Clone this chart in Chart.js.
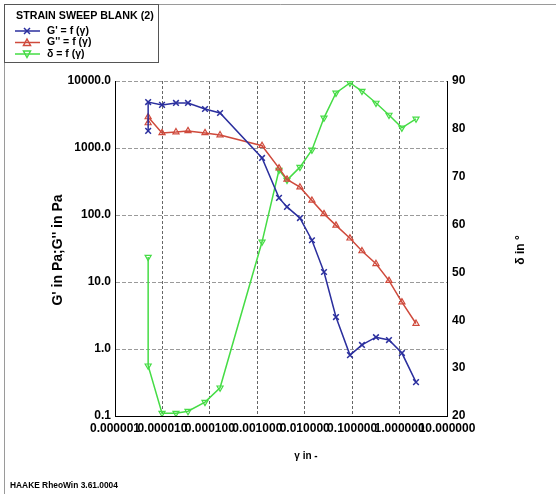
<!DOCTYPE html>
<html>
<head>
<meta charset="utf-8">
<title>Strain sweep</title>
<script src="https://cdn.jsdelivr.net/npm/chart.js@4.4.0/dist/chart.umd.min.js"></script>
<style>
  html, body { margin: 0; padding: 0; background: #fff; }
  canvas { display: block; }
</style>
</head>
<body>
<canvas id="chart" width="556" height="494"></canvas>
<script>
// strain amplitude (gamma) and measured moduli / phase angle
const gamma = [5e-6, 5e-6, 9.8e-6, 1.93e-5, 3.46e-5, 7.9e-5, 1.64e-4, 1.26e-3, 2.87e-3, 4.23e-3,
               7.94e-3, 1.42e-2, 2.55e-2, 4.56e-2, 9.0e-2, 0.161, 0.318, 0.598, 1.12, 2.22];
const gStorage = [1800, 4850, 4400, 4700, 4700, 3820, 3330, 710, 180, 132,
                  90, 42, 14.1, 3.0, 0.81, 1.15, 1.5, 1.36, 0.87, 0.32];
const gLoss = [2360, 2900, 1680, 1730, 1800, 1680, 1560, 1080, 500, 340,
               260, 165, 104, 70, 45, 29, 18.7, 10.5, 5.0, 2.4];
const delta = [53.2, 30.5, 20.6, 20.6, 21.0, 22.9, 25.9, 56.4, 71.4, 69.3,
               72.0, 75.6, 82.3, 87.5, 89.6, 87.9, 85.4, 82.9, 80.2, 82.1];

const xTicks = [1e-6, 1e-5, 1e-4, 1e-3, 1e-2, 1e-1, 1, 10];
const leftTicks = [0.1, 1, 10, 100, 1000, 10000];
const rightTicks = [20, 30, 40, 50, 60, 70, 80, 90];

const seriesNames = ["G' = f (\u03b3)", "G'' = f (\u03b3)", "\u03b4 = f (\u03b3)"];
const BLUE = '#2b2f9e', RED = '#cf4a3c', GREEN = '#45dc45';
const FONT = '"Liberation Sans", Arial, sans-serif';
const tickFont = { family: FONT, size: 12, weight: 'bold' };

const pairs = ys => gamma.map((g, i) => ({ x: g, y: ys[i] }));
const fixTicks = list => scale => { scale.ticks = list.map(v => ({ value: v })); };

// legend box, axis titles, frame and footer
const decor = {
  id: 'decor',
  afterDraw(chart) {
    const ctx = chart.ctx;
    ctx.save();
    ctx.strokeStyle = '#9a9a9a';
    ctx.lineWidth = 1;
    ctx.beginPath();
    ctx.moveTo(4.5, 494); ctx.lineTo(4.5, 4.5); ctx.lineTo(556, 4.5);
    ctx.stroke();
    ctx.strokeStyle = '#555';
    ctx.strokeRect(4.5, 4.5, 154, 58);

    ctx.fillStyle = '#000';
    ctx.textBaseline = 'middle';
    ctx.textAlign = 'left';
    ctx.font = 'bold 10.7px ' + FONT;
    ctx.fillText('STRAIN SWEEP BLANK (2)', 16, 16);

    const marks = [
      { c: BLUE, s: 'x' }, { c: RED, s: 'up' }, { c: GREEN, s: 'down' }
    ];
    marks.forEach((m, i) => {
      const y = 31 + i * 11.5;
      ctx.strokeStyle = m.c;
      ctx.lineWidth = 1.5;
      ctx.beginPath(); ctx.moveTo(15, y); ctx.lineTo(40, y); ctx.stroke();
      ctx.beginPath();
      if (m.s === 'x') {
        ctx.moveTo(24, y - 3); ctx.lineTo(30, y + 3);
        ctx.moveTo(30, y - 3); ctx.lineTo(24, y + 3);
      } else if (m.s === 'up') {
        ctx.moveTo(27, y - 3.5); ctx.lineTo(30.5, y + 3); ctx.lineTo(23.5, y + 3); ctx.closePath();
      } else {
        ctx.moveTo(27, y + 3.5); ctx.lineTo(30.5, y - 3); ctx.lineTo(23.5, y - 3); ctx.closePath();
      }
      ctx.stroke();
      ctx.fillStyle = '#000';
      ctx.font = 'bold 10.5px ' + FONT;
      ctx.fillText(seriesNames[i], 47, y);
    });

    ctx.font = 'bold 10px ' + FONT;
    ctx.textAlign = 'center';
    ctx.fillText('\u03b3 in -', 306, 456);

    ctx.save();
    ctx.translate(58, 250);
    ctx.rotate(-Math.PI / 2);
    ctx.font = 'bold 14px ' + FONT;
    ctx.fillText("G' in Pa;G'' in Pa", 0, 0);
    ctx.restore();

    ctx.save();
    ctx.translate(521, 250);
    ctx.rotate(-Math.PI / 2);
    ctx.font = 'bold 12px ' + FONT;
    ctx.fillText('\u03b4 in \u00b0', 0, 0);
    ctx.restore();

    ctx.textAlign = 'left';
    ctx.font = 'bold 8.4px ' + FONT;
    ctx.fillText('HAAKE RheoWin 3.61.0004', 10, 486);
    ctx.restore();
  }
};

new Chart(document.getElementById('chart').getContext('2d'), {
  type: 'line',
  data: {
    datasets: [
      {
        label: seriesNames[0], data: pairs(gStorage), yAxisID: 'y',
        borderColor: BLUE, backgroundColor: BLUE, borderWidth: 1.5,
        pointStyle: 'crossRot', pointRadius: 4, pointBorderWidth: 1.5
      },
      {
        label: seriesNames[1], data: pairs(gLoss), yAxisID: 'y',
        borderColor: RED, backgroundColor: 'rgba(255,255,255,0)', borderWidth: 1.5,
        pointStyle: 'triangle', pointRadius: 3.5, pointBorderWidth: 1.2
      },
      {
        label: seriesNames[2], data: pairs(delta), yAxisID: 'y2',
        borderColor: GREEN, backgroundColor: 'rgba(255,255,255,0)', borderWidth: 1.5,
        pointStyle: 'triangle', pointRotation: 180, pointRadius: 3.5, pointBorderWidth: 1.2
      }
    ]
  },
  options: {
    responsive: false,
    devicePixelRatio: 1,
    animation: false,
    layout: { padding: { top: 81, left: 0, right: 0, bottom: 0 } },
    plugins: { legend: { display: false }, tooltip: { enabled: false } },
    scales: {
      x: {
        type: 'logarithmic', min: 1e-6, max: 10,
        afterBuildTicks: fixTicks(xTicks),
        afterFit: s => { s.height = 78; },
        ticks: {
          autoSkip: false, maxRotation: 0, minRotation: 0, padding: 5,
          color: '#000', font: tickFont,
          callback: v => Number(v).toFixed(6)
        },
        grid: { color: '#666', drawTicks: false },
        border: { color: '#000', width: 1, dash: [3, 2] }
      },
      y: {
        type: 'logarithmic', position: 'left', min: 0.1, max: 10000,
        afterBuildTicks: fixTicks(leftTicks),
        afterFit: s => { s.width = 115; },
        ticks: {
          padding: 4, color: '#000', font: tickFont,
          callback: v => Number(v).toFixed(1)
        },
        grid: { color: '#9a9a9a', drawTicks: false },
        border: { color: '#000', width: 1, dash: [4, 2] }
      },
      y2: {
        type: 'linear', position: 'right', min: 20, max: 90,
        afterBuildTicks: fixTicks(rightTicks),
        afterFit: s => { s.width = 109; },
        ticks: {
          padding: 5, color: '#000', font: tickFont,
          callback: v => String(v)
        },
        grid: { drawOnChartArea: false, drawTicks: false },
        border: { color: '#000', width: 1 }
      }
    }
  },
  plugins: [decor]
});
</script>
</body>
</html>
